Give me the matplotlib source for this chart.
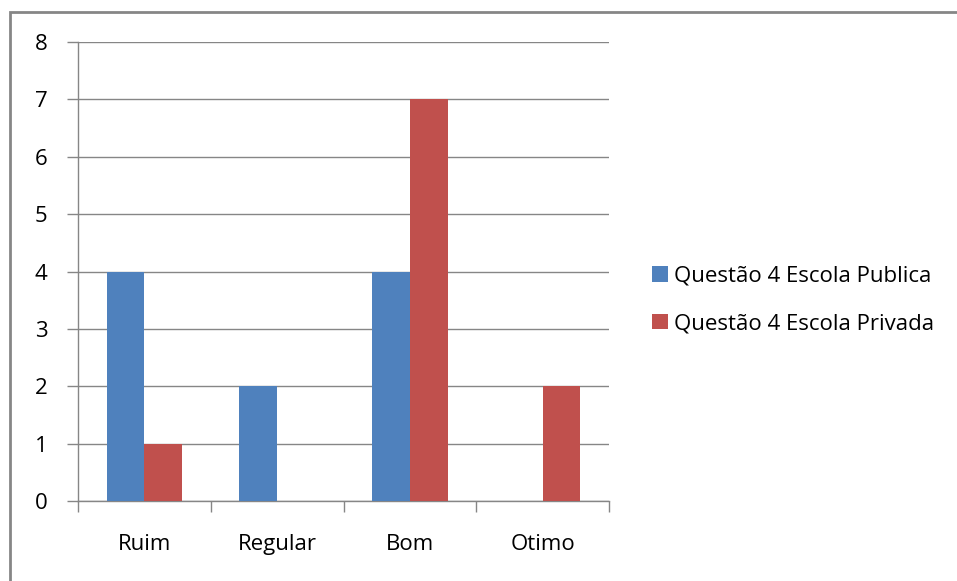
import numpy as np
import matplotlib
matplotlib.use("Agg")
import matplotlib.pyplot as plt
from matplotlib.patches import Rectangle

categories = ["Ruim", "Regular", "Bom", "Otimo"]
publica = [4, 2, 4, 0]
privada = [1, 0, 7, 2]
series_names = ["Questão 4 Escola Publica", "Questão 4 Escola Privada"]
y_ticks = [0, 1, 2, 3, 4, 5, 6, 7, 8]

plt.rcParams["font.family"] = ["Open Sans", "DejaVu Sans"]
grid_color = "#868686"
fs = 16

fig = plt.figure(figsize=(9.57, 5.81), dpi=100)
W, H = 957, 581
ax = fig.add_axes([78 / W, 1 - 501 / H, (609 - 78) / W, (501 - 42) / H])

x = np.arange(len(categories))
width = 0.285
ax.bar(x - width / 2, publica, width, color="#4F81BD", label=series_names[0], zorder=3)
ax.bar(x + width / 2, privada, width, color="#C0504D", label=series_names[1], zorder=3)

ax.set_xlim(-0.5, len(categories) - 0.5)
ax.set_ylim(0, 8)
ax.set_yticks(y_ticks)
ax.set_yticklabels([str(v) for v in y_ticks], fontsize=fs)
ax.tick_params(axis="y", length=8, width=1, color=grid_color, pad=14)

# category labels between tick marks
ax.set_xticks(x)
ax.set_xticklabels(categories, fontsize=fs)
ax.tick_params(axis="x", which="major", length=0, pad=24)
ax.set_xticks(np.arange(len(categories) + 1) - 0.5, minor=True)
ax.tick_params(axis="x", which="minor", length=8, width=1, color=grid_color)

ax.grid(axis="y", color=grid_color, linewidth=1, zorder=0)
for side in ["top", "right"]:
    ax.spines[side].set_visible(False)
for side in ["left", "bottom"]:
    ax.spines[side].set_color(grid_color)
    ax.spines[side].set_linewidth(1)

ax.legend(loc="center left", bbox_to_anchor=(632 / W, 1 - 300 / H),
          bbox_transform=fig.transFigure, frameon=False, fontsize=fs,
          handlelength=0.7, handleheight=0.7, handletextpad=0.3,
          labelspacing=1.2)

# outer chart frame
fig.patches.append(Rectangle((10 / W, -0.1), 1.2, 1 - 12 / H + 0.1,
                             transform=fig.transFigure, fill=False,
                             edgecolor=grid_color, linewidth=2))

fig.savefig("out.png", dpi=100)
